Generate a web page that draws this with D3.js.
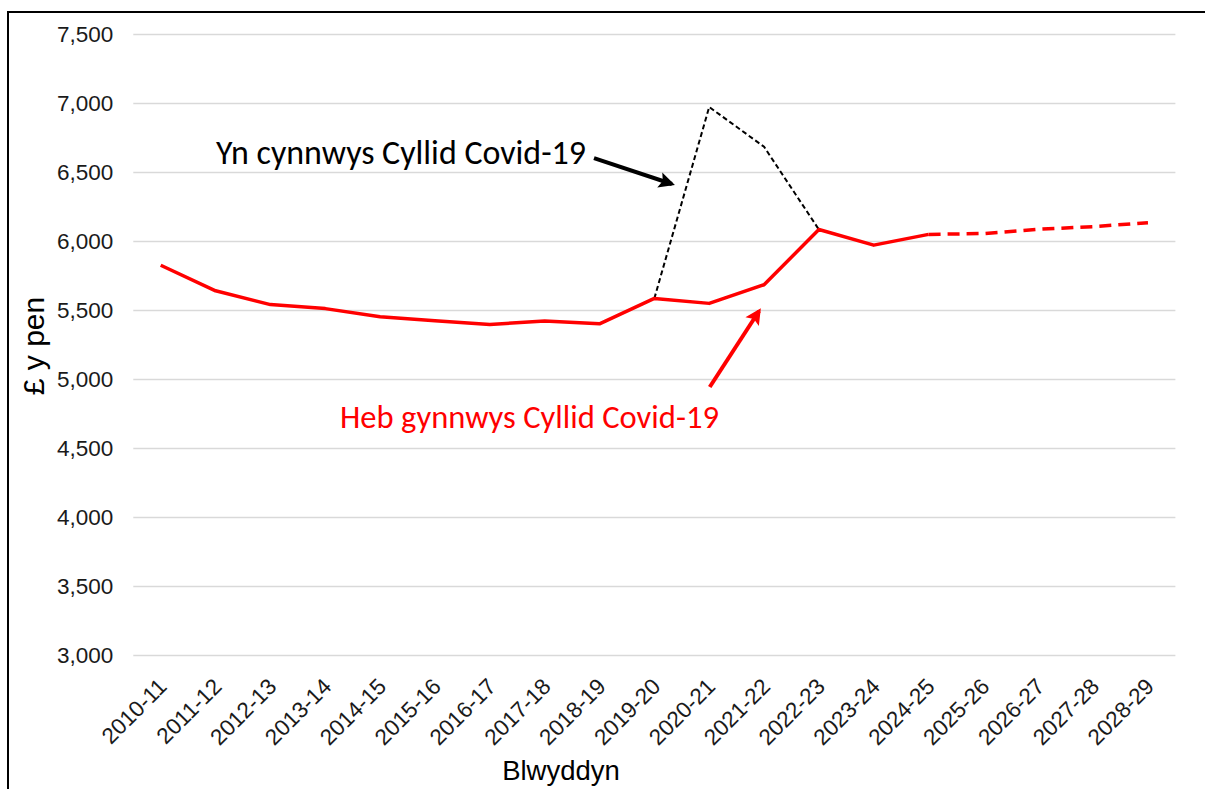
<!DOCTYPE html>
<html>
<head>
<meta charset="utf-8">
<script src="https://cdn.jsdelivr.net/npm/d3@7"></script>
<style>
  html, body { margin: 0; padding: 0; background: #fff; }
  svg { display: block; }
</style>
</head>
<body>
<svg id="chart" width="1205" height="789"></svg>
<script>
// ---- data ----
const categories = ["2010-11","2011-12","2012-13","2013-14","2014-15","2015-16","2016-17","2017-18","2018-19","2019-20","2020-21","2021-22","2022-23","2023-24","2024-25","2025-26","2026-27","2027-28","2028-29"];
// excluding Covid-19 funding (actuals to 2024-25, then projection)
const withoutCovid = [5824, 5639, 5539, 5510, 5451, 5422, 5395, 5420, 5400, 5584, 5548, 5683, 6083, 5970, 6048, null, null, null, null];
const projection   = [null, null, null, null, null, null, null, null, null, null, null, null, null, null, 6048, 6054, 6085, 6104, 6133];
// including Covid-19 funding
const withCovid    = [null, null, null, null, null, null, null, null, null, 5584, 6971, 6683, 6083, null, null, null, null, null, null];
const yTicks = [3000, 3500, 4000, 4500, 5000, 5500, 6000, 6500, 7000, 7500];
const yLabel = "£ y pen";
const xLabel = "Blwyddyn";
const labelWith = "Yn cynnwys Cyllid Covid-19";
const labelWithout = "Heb gynnwys Cyllid Covid-19";

// ---- layout ----
const svg = d3.select("#chart");
const plot = { left: 133.3, right: 1175.4, top: 34, bottom: 655 };

const x = d3.scalePoint().domain(categories).range([plot.left, plot.right]).padding(0.5);
const xi = d3.scaleLinear().domain([0, categories.length - 1]).range([x(categories[0]), x(categories[categories.length - 1])]);
const y = d3.scaleLinear().domain([3000, 7500]).range([plot.bottom, plot.top]);

// frame
svg.append("line").attr("x1", 7).attr("x2", 1205).attr("y1", 12).attr("y2", 12)
  .attr("stroke", "#000").attr("stroke-width", 2);
svg.append("line").attr("x1", 8).attr("x2", 8).attr("y1", 11).attr("y2", 789)
  .attr("stroke", "#000").attr("stroke-width", 2);

// gridlines
const yAxis = d3.axisLeft(y).tickValues(yTicks).tickFormat(d3.format(",")).tickSize(-(plot.right - plot.left)).tickPadding(20);
const gy = svg.append("g").attr("transform", `translate(${plot.left},0)`).call(yAxis);
gy.select(".domain").remove();
gy.selectAll(".tick line").attr("stroke", "#d9d9d9").attr("stroke-width", 1.5);
gy.selectAll(".tick text").attr("font-family", "'Liberation Sans', Arial, sans-serif")
  .attr("font-size", 22.5).attr("fill", "#1a1a1a");

// x axis labels
const xAxis = d3.axisBottom(x).tickSize(0).tickPadding(0);
const gx = svg.append("g").attr("transform", `translate(0,${plot.bottom})`).call(xAxis);
gx.select(".domain").remove();
gx.selectAll(".tick text")
  .attr("font-family", "'Liberation Sans', Arial, sans-serif")
  .attr("font-size", 22.5).attr("fill", "#1a1a1a")
  .attr("text-anchor", "end")
  .attr("dy", null).attr("y", null)
  .attr("transform", "translate(7,33) rotate(-45)");

// axis titles
svg.append("text").attr("transform", `translate(44,346) rotate(-90)`)
  .attr("text-anchor", "middle").attr("font-family", "'Liberation Sans', Arial, sans-serif")
  .attr("font-size", 30).attr("fill", "#000").text(yLabel);
svg.append("text").attr("x", 561).attr("y", 780)
  .attr("text-anchor", "middle").attr("font-family", "'Liberation Sans', Arial, sans-serif")
  .attr("font-size", 27.5).attr("fill", "#000").text(xLabel);

// lines
const line = d3.line().defined(d => d != null).x((d, i) => x(categories[i])).y(d => y(d));

svg.append("path").datum(withCovid).attr("d", line)
  .attr("fill", "none").attr("stroke", "#000").attr("stroke-width", 2).attr("stroke-dasharray", "5,3");
svg.append("path").datum(withoutCovid).attr("d", line)
  .attr("fill", "none").attr("stroke", "#ff0000").attr("stroke-width", 3.5).attr("stroke-linejoin", "round");
svg.append("path").datum(projection).attr("d", line)
  .attr("fill", "none").attr("stroke", "#ff0000").attr("stroke-width", 3.5).attr("stroke-dasharray", "12,7");

// annotations
const defs = svg.append("defs");
function marker(id, color) {
  defs.append("marker").attr("id", id).attr("viewBox", "0 0 10 10").attr("refX", 8).attr("refY", 5)
    .attr("markerWidth", 4.5).attr("markerHeight", 4).attr("orient", "auto")
    .append("path").attr("d", "M0,0 L10,5 L0,10 L2,5 Z").attr("fill", color);
}
marker("arrBlack", "#000");
marker("arrRed", "#ff0000");

function fitText(sel, target) {
  let fs = 28;
  sel.attr("font-size", fs);
  const w = sel.node().getComputedTextLength();
  sel.attr("font-size", fs * target / w);
}

const t1 = svg.append("text").attr("x", xi(1.01)).attr("y", y(6555))
  .attr("font-family", "Carlito, Lato, 'Open Sans', sans-serif").attr("fill", "#000").text(labelWith);
fitText(t1, 370);
const t2 = svg.append("text").attr("x", xi(3.27)).attr("y", y(4645))
  .attr("font-family", "Carlito, Lato, 'Open Sans', sans-serif").attr("fill", "#ff0000").text(labelWithout);
fitText(t2, 379);

svg.append("line").attr("x1", xi(7.9)).attr("y1", y(6600)).attr("x2", xi(9.32)).attr("y2", y(6413))
  .attr("stroke", "#000").attr("stroke-width", 4).attr("marker-end", "url(#arrBlack)");
svg.append("line").attr("x1", xi(10.01)).attr("y1", y(4942)).attr("x2", xi(10.91)).attr("y2", y(5493))
  .attr("stroke", "#ff0000").attr("stroke-width", 4).attr("marker-end", "url(#arrRed)");
</script>
</body>
</html>
